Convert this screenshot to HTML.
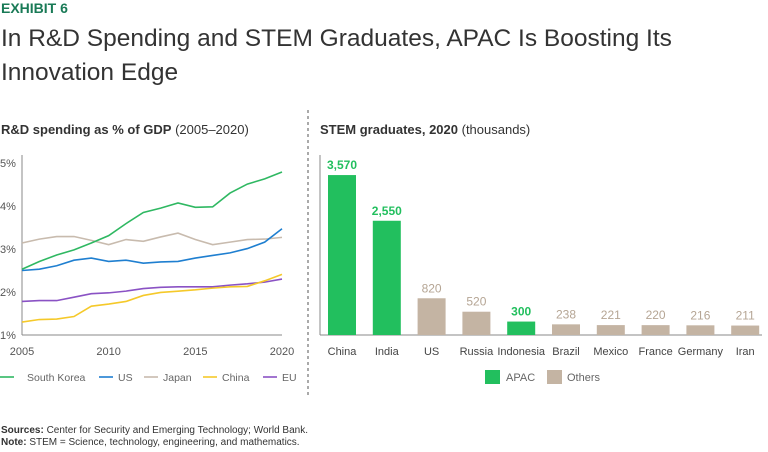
<!DOCTYPE html>
<html><head><meta charset="utf-8"><style>
body{margin:0;width:768px;height:452px;background:#fff;font-family:"Liberation Sans",sans-serif;overflow:hidden;position:relative}
.a{position:absolute;white-space:nowrap}
</style></head><body>
<div class="a" style="left:1px;top:0px;font-size:14px;font-weight:bold;color:#197a56">EXHIBIT 6</div>
<div class="a" style="left:1px;top:22px;font-size:24.5px;line-height:34px;color:#333;white-space:normal;width:760px">In R&amp;D Spending and STEM Graduates, APAC Is Boosting Its<br>Innovation Edge</div>
<div class="a" style="left:1px;top:122px;font-size:13px;color:#333"><b>R&amp;D spending as % of GDP</b> (2005–2020)</div>
<div class="a" style="left:320px;top:122px;font-size:13px;color:#333"><b>STEM graduates, 2020</b> (thousands)</div>
<div class="a" style="left:1px;top:425px;font-size:10px;line-height:12px;color:#333"><b>Sources:</b> Center for Security and Emerging Technology; World Bank.<br><b>Note:</b> STEM = Science, technology, engineering, and mathematics.</div>
<svg id="s" width="768" height="452" style="position:absolute;left:0;top:0" font-family="Liberation Sans, sans-serif">
<line x1="308" y1="110" x2="308" y2="395" stroke="#555" stroke-dasharray="3,3"/>
</svg>
<script>
const years=[2005,2006,2007,2008,2009,2010,2011,2012,2013,2014,2015,2016,2017,2018,2019,2020];
const southKorea=[2.53,2.71,2.86,2.98,3.14,3.31,3.59,3.85,3.95,4.07,3.97,3.98,4.30,4.51,4.63,4.79];
const us=[2.50,2.53,2.61,2.74,2.79,2.71,2.74,2.67,2.70,2.71,2.79,2.85,2.91,3.01,3.16,3.47];
const japan=[3.14,3.23,3.29,3.29,3.20,3.10,3.22,3.18,3.28,3.37,3.22,3.10,3.16,3.22,3.23,3.27];
const china=[1.30,1.36,1.37,1.43,1.67,1.72,1.78,1.92,1.99,2.02,2.05,2.09,2.12,2.13,2.26,2.41];
const eu=[1.78,1.80,1.80,1.88,1.96,1.98,2.02,2.08,2.11,2.12,2.12,2.12,2.16,2.19,2.23,2.30];
const yTicks=[1,2,3,4,5];
const xTicks=[2005,2010,2015,2020];
const countries=["China","India","US","Russia","Indonesia","Brazil","Mexico","France","Germany","Iran"];
const grads=[3570,2550,820,520,300,238,221,220,216,211];
const apac=[true,true,false,false,true,false,false,false,false,false];
const s=document.getElementById('s');const NS='http://www.w3.org/2000/svg';
function mk(t,a,txt){const e=document.createElementNS(NS,t);for(const k in a)e.setAttribute(k,a[k]);if(txt!==undefined)e.textContent=txt;s.appendChild(e);return e;}
const xs=y=>22+(y-2005)*(260/15), ys=v=>335-(v-1)*43;
let e;
e=mk('line',{x1:22,y1:155,x2:22,y2:335,stroke:'#888'});


e=mk('line',{x1:22,y1:335,x2:282,y2:335,stroke:'#888'});


yTicks.forEach(v=>{e=mk('text',{x:0,y:ys(v)+4,'font-size':11,fill:'#555'},v+'%');

});
xTicks.forEach(v=>{e=mk('text',{x:xs(v),y:355,'font-size':11,fill:'#555','text-anchor':'middle'},v);

});
const series=[["South Korea",southKorea,"#2fb862"],["US",us,"#1f7fd0"],["Japan",japan,"#c8bbae"],["China",china,"#f5c92a"],["EU",eu,"#8a52c4"]];
[2,0,1,4,3].forEach(i=>{const [n,d,c]=series[i];
e=mk('polyline',{points:d.map((v,j)=>xs(years[j])+','+ys(v)).join(' '),fill:'none',stroke:c,'stroke-width':1.6});

});
const lx=[0,99,144,203,263];
const tx=[27,118,163,222,282];
series.forEach(([n,d,c],i)=>{e=mk('line',{x1:lx[i],y1:377,x2:lx[i]+14,y2:377,stroke:c,'stroke-width':1.6});


e=mk('text',{x:tx[i],y:381,'font-size':10.5,fill:'#666'},n);

});
const bx=i=>328+i*44.8, by=v=>335-v*0.0448;
e=mk('line',{x1:320,y1:155,x2:320,y2:335,stroke:'#888'});


e=mk('line',{x1:320,y1:335,x2:762,y2:335,stroke:'#888'});


countries.forEach((c,i)=>{const col=apac[i]?'#22bf5e':'#c4b4a3';
e=mk('rect',{x:bx(i),y:by(grads[i]),width:28,height:335-by(grads[i]),fill:col});


e=mk('text',{x:bx(i)+14,y:by(grads[i])-6,'font-size':12,'font-weight':apac[i]?'bold':'normal',fill:apac[i]?'#22bf5e':'#b5a594','text-anchor':'middle'},grads[i].toLocaleString('en-US'));


e=mk('text',{x:bx(i)+14,y:355,'font-size':11,fill:'#444','text-anchor':'middle'},c);

});
e=mk('rect',{x:485,y:370,width:15,height:14,fill:'#22bf5e'});


e=mk('text',{x:506,y:381,'font-size':11,fill:'#666'},'APAC');


e=mk('rect',{x:547,y:370,width:15,height:14,fill:'#c4b4a3'});


e=mk('text',{x:567,y:381,'font-size':11,fill:'#666'},'Others');


</script>
</body></html>
